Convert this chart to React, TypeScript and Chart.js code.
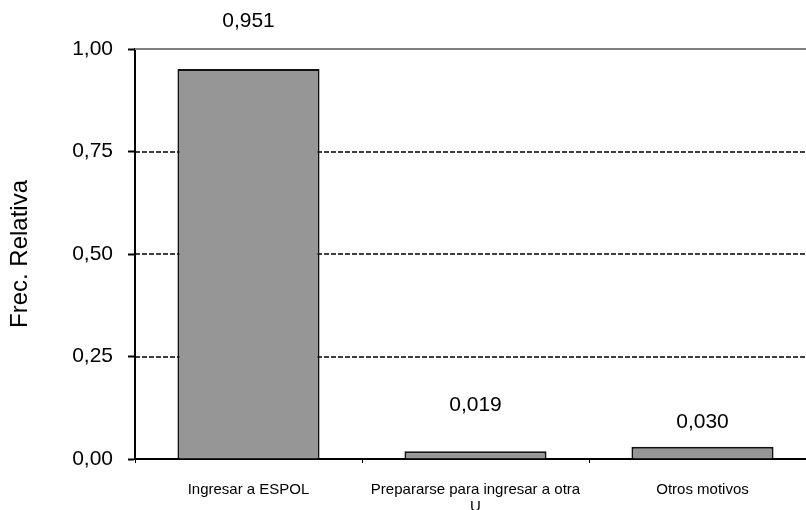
import React, { useEffect, useRef } from "react";
import { Chart, registerables } from "chart.js";

Chart.register(...registerables);

const categories: (string | string[])[] = [
  "Ingresar a ESPOL",
  ["Prepararse para ingresar a otra", "U"],
  "Otros motivos",
];
const values: number[] = [0.951, 0.019, 0.03];
const yTicks: number[] = [0, 0.25, 0.5, 0.75, 1];
const yTitle = "Frec. Relativa";

const fmt = (v: number, d: number) => v.toFixed(d).replace(".", ",");

const FONT = "'Liberation Sans', Arial, sans-serif";

const gridPlugin = {
  id: "customGrid",
  beforeDatasetsDraw(chart: any) {
    const { ctx, chartArea, scales } = chart;
    const y = scales.y;
    ctx.save();
    yTicks.forEach((t) => {
      if (t === 0) return;
      const py = Math.round(y.getPixelForValue(t));
      ctx.beginPath();
      if (t === 1) {
        ctx.strokeStyle = "#808080";
        ctx.lineWidth = 2;
        ctx.setLineDash([]);
      } else {
        ctx.strokeStyle = "#000";
        ctx.lineWidth = 1.5;
        ctx.setLineDash([5, 2]);
      }
      ctx.moveTo(chartArea.left, py);
      ctx.lineTo(chartArea.right, py);
      ctx.stroke();
    });
    ctx.restore();
  },
};

const labelPlugin = {
  id: "valueLabels",
  afterDatasetsDraw(chart: any, _args: any, opts: any) {
    const { ctx } = chart;
    const meta = chart.getDatasetMeta(0);
    const offsets: number[] = opts.offsets || [];
    ctx.save();
    ctx.font = `21px ${FONT}`;
    ctx.fillStyle = "#000";
    ctx.textAlign = "center";
    ctx.textBaseline = "middle";
    meta.data.forEach((bar: any, i: number) => {
      ctx.fillText(fmt(values[i], 3), bar.x, bar.y - (offsets[i] ?? 20));
    });
    ctx.restore();
  },
};

export default function App() {
  const ref = useRef<HTMLCanvasElement>(null);
  useEffect(() => {
    if (!ref.current) return;
    const chart = new Chart(ref.current, {
      type: "bar",
      data: {
        labels: categories,
        datasets: [
          {
            data: values,
            backgroundColor: "#969696",
            borderColor: "#111",
            borderWidth: 2,
            barPercentage: 0.626,
            categoryPercentage: 1,
          },
        ],
      },
      plugins: [gridPlugin, labelPlugin],
      options: {
        responsive: false,
        animation: false,
        devicePixelRatio: 1,
        layout: { padding: { left: 0, top: 49, right: 4, bottom: 0 } },
        plugins: {
          legend: { display: false },
          tooltip: { enabled: false },
          valueLabels: { offsets: [48, 46, 24] },
        } as any,
        scales: {
          x: {
            grid: {
              display: true,
              drawOnChartArea: false,
              drawTicks: true,
              tickLength: 4,
              tickColor: "#000",
              tickWidth: 1,
              offset: true,
            },
            border: { display: true, color: "#000", width: 2 },
            ticks: {
              color: "#000",
              font: { family: FONT, size: 15, lineHeight: 1.15 },
              padding: 18,
              maxRotation: 0,
              autoSkip: false,
            },
            afterFit(scale: any) {
              scale.height = 51;
            },
          },
          y: {
            min: 0,
            max: 1,
            afterBuildTicks(scale: any) {
              scale.ticks = yTicks.map((v) => ({ value: v }));
            },
            grid: {
              display: true,
              drawOnChartArea: false,
              drawTicks: true,
              tickLength: 7,
              tickColor: "#000",
              tickWidth: 2,
            },
            border: { display: true, color: "#000", width: 2 },
            ticks: {
              color: "#000",
              font: { family: FONT, size: 21 },
              padding: 15,
              callback: (v: any) => fmt(Number(v), 2),
            },
            title: {
              display: true,
              text: yTitle,
              color: "#000",
              font: { family: FONT, size: 24 },
              padding: { top: 6, bottom: 0 },
            },
            afterFit(scale: any) {
              scale.width = 135;
            },
          },
        },
      },
    });
    return () => chart.destroy();
  }, []);
  return (
    <div
      style={{
        position: "fixed",
        left: 0,
        top: 0,
        width: 806,
        height: 510,
        overflow: "hidden",
        background: "#fff",
      }}
    >
      <canvas ref={ref} width={820} height={510} style={{ display: "block" }} />
    </div>
  );
}
